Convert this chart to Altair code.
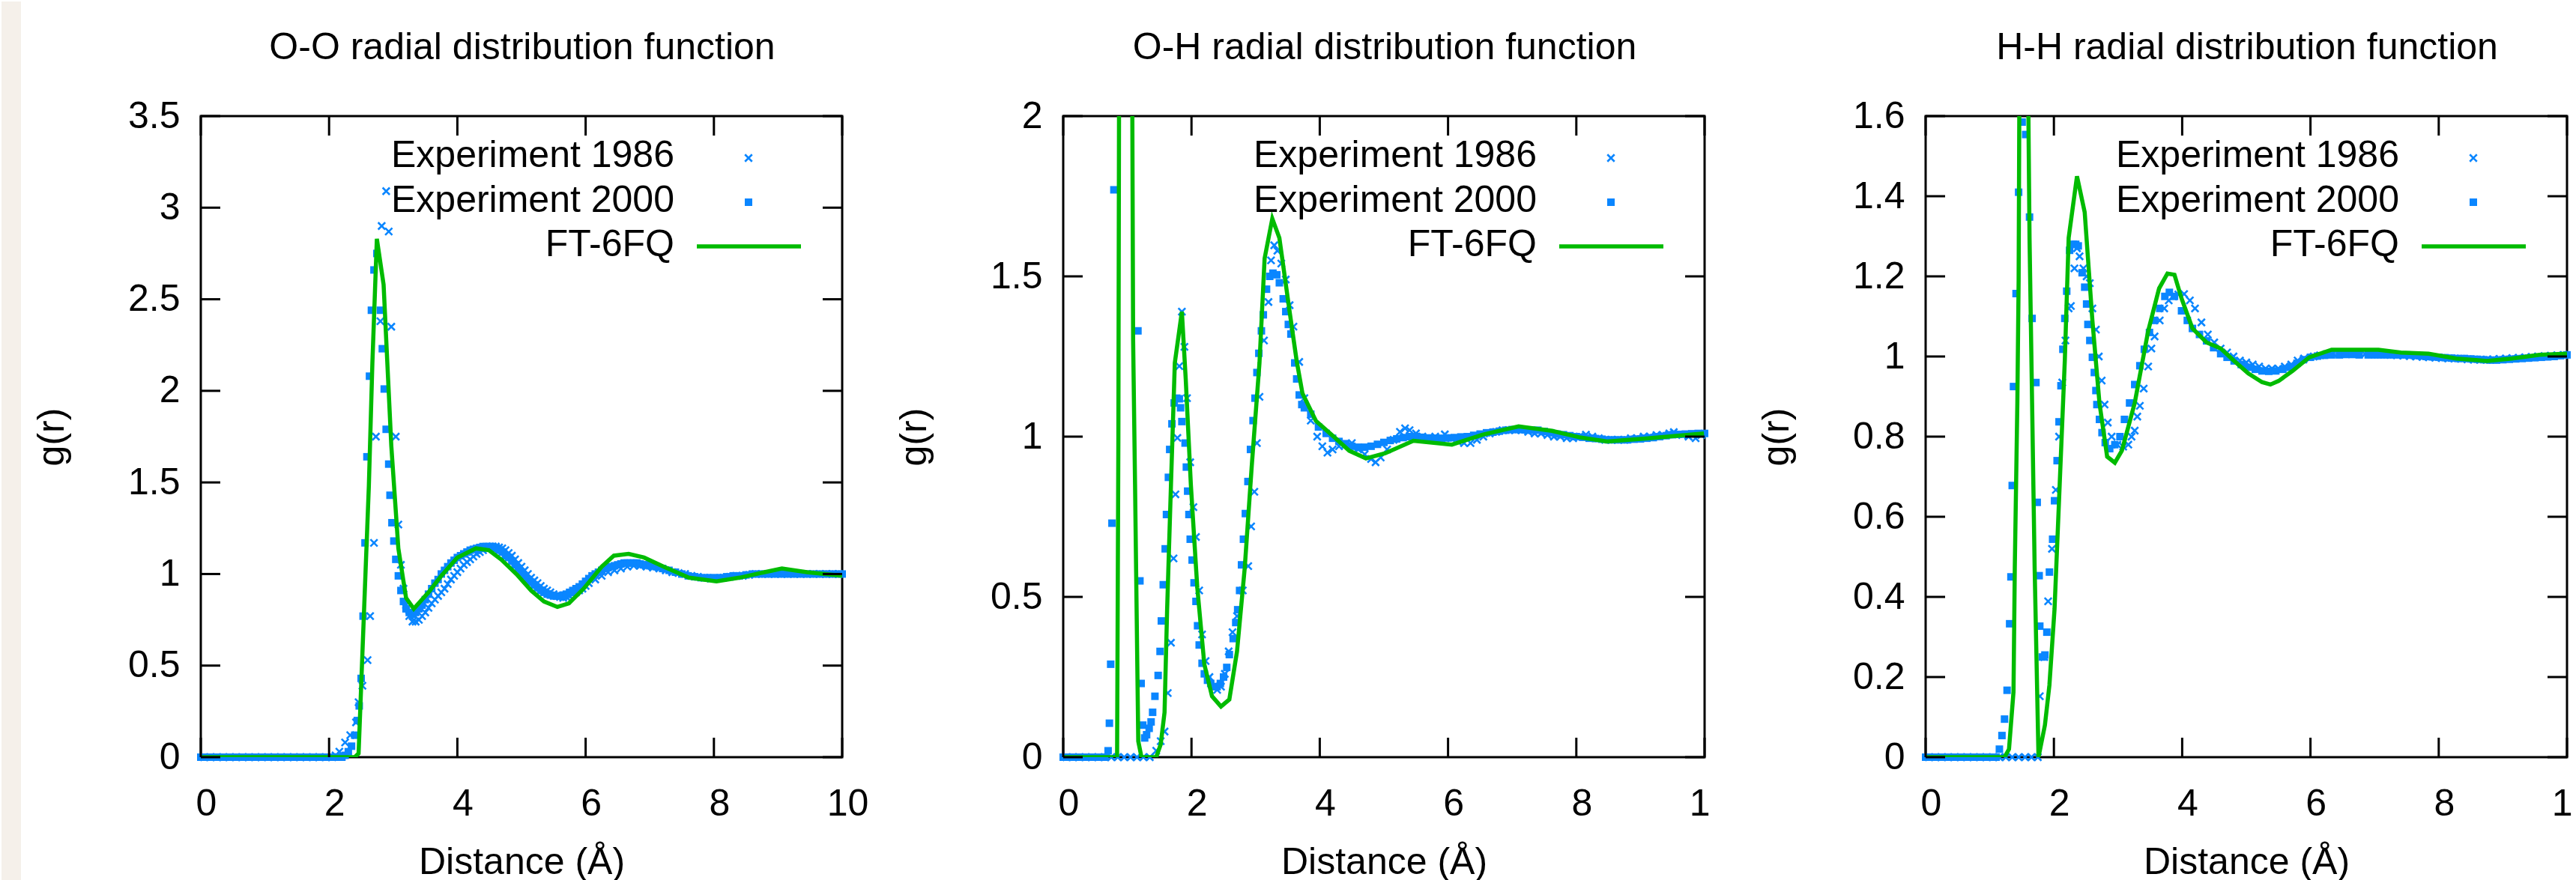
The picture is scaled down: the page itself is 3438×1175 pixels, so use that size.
import altair as alt
import pandas as pd

FONT = "Liberation Sans"
BLUE = "#0A86FF"
GREEN = "#00BB00"
STRIP = "#F5F0EA"

TITLES = ["O-O radial distribution function",
          "O-H radial distribution function",
          "H-H radial distribution function"]
LEGEND_LABELS = ["Experiment 1986", "Experiment 2000", "FT-6FQ"]
X_LABEL = "Distance (Å)"
Y_LABEL = "g(r)"
X_TICKS = [0, 2, 4, 6, 8, 10]
OO_Y_TICKS = [0, 0.5, 1, 1.5, 2, 2.5, 3, 3.5]
OH_Y_TICKS = [0, 0.5, 1, 1.5, 2]
HH_Y_TICKS = [0, 0.2, 0.4, 0.6, 0.8, 1, 1.2, 1.4, 1.6]

# ---------------- O-O ----------------
OO_EXP1986 = [
    (0.05, 0), (0.15, 0), (0.25, 0), (0.35, 0), (0.45, 0), (0.55, 0), (0.65, 0), (0.75, 0),
    (0.85, 0), (0.95, 0), (1.05, 0), (1.15, 0), (1.25, 0), (1.35, 0), (1.45, 0), (1.55, 0),
    (1.65, 0), (1.75, 0), (1.85, 0), (1.95, 0), (2.05, 0), (2.10, 0.01), (2.16, 0.03),
    (2.25, 0.08), (2.33, 0.12), (2.42, 0.19), (2.46, 0.30), (2.52, 0.39), (2.60, 0.53),
    (2.64, 0.77), (2.70, 1.17), (2.73, 1.75), (2.80, 2.38), (2.82, 2.90), (2.89, 3.09),
    (2.93, 2.87), (2.97, 2.35), (3.04, 1.75), (3.08, 1.27), (3.12, 1.05), (3.16, 0.92),
    (3.20, 0.83), (3.25, 0.77), (3.30, 0.74), (3.35, 0.74), (3.40, 0.75), (3.45, 0.77),
    (3.50, 0.79), (3.55, 0.815), (3.60, 0.84), (3.65, 0.86), (3.70, 0.88), (3.75, 0.90),
    (3.80, 0.92), (3.85, 0.945), (3.90, 0.97), (3.95, 0.99), (4.00, 1.01), (4.05, 1.03),
    (4.10, 1.05), (4.15, 1.065), (4.20, 1.08), (4.25, 1.095), (4.30, 1.11), (4.35, 1.12),
    (4.40, 1.13), (4.45, 1.14), (4.50, 1.145), (4.55, 1.15), (4.60, 1.15), (4.65, 1.145),
    (4.70, 1.14), (4.75, 1.13), (4.80, 1.115), (4.85, 1.10), (4.90, 1.08), (4.95, 1.06),
    (5.00, 1.04), (5.05, 1.02), (5.10, 1.00), (5.15, 0.98), (5.20, 0.965), (5.25, 0.95),
    (5.30, 0.935), (5.35, 0.92), (5.40, 0.91), (5.45, 0.90), (5.50, 0.89), (5.55, 0.88),
    (5.60, 0.875), (5.65, 0.87), (5.70, 0.875), (5.75, 0.88), (5.80, 0.89), (5.85, 0.90),
    (5.90, 0.91), (5.95, 0.92), (6.00, 0.935), (6.05, 0.95), (6.15, 0.97), (6.25, 0.99),
    (6.35, 1.01), (6.45, 1.02), (6.55, 1.03), (6.65, 1.04), (6.75, 1.045), (6.85, 1.045),
    (6.95, 1.04), (7.05, 1.035), (7.15, 1.03), (7.25, 1.02), (7.35, 1.01), (7.45, 1.005),
    (7.55, 1.0), (7.65, 0.99), (7.75, 0.985), (7.85, 0.98), (7.95, 0.975), (8.05, 0.975),
    (8.15, 0.98), (8.25, 0.985), (8.35, 0.99), (8.45, 0.99), (8.55, 0.995), (8.65, 1.0),
    (8.75, 1.0), (8.85, 1.0), (8.95, 1.0), (9.05, 1.0), (9.15, 1.0), (9.25, 1.0), (9.35, 1.0),
    (9.45, 1.0), (9.55, 1.0), (9.65, 1.0), (9.75, 1.0), (9.85, 1.0), (9.95, 1.0),
]
OO_EXP2000 = [
    (0.0, 0), (0.1, 0), (0.2, 0), (0.3, 0), (0.4, 0), (0.5, 0), (0.6, 0), (0.7, 0), (0.8, 0),
    (0.9, 0), (1.0, 0), (1.1, 0), (1.2, 0), (1.3, 0), (1.4, 0), (1.5, 0), (1.6, 0), (1.7, 0),
    (1.8, 0), (1.9, 0), (2.0, 0), (2.1, 0), (2.2, 0), (2.25, 0.01), (2.30, 0.03), (2.35, 0.06),
    (2.40, 0.12), (2.44, 0.20), (2.47, 0.28), (2.50, 0.43), (2.53, 0.77), (2.56, 1.17),
    (2.59, 1.64), (2.63, 2.08), (2.66, 2.44), (2.70, 2.66), (2.745, 2.75), (2.80, 2.44),
    (2.83, 2.23), (2.86, 2.01), (2.89, 1.79), (2.93, 1.60), (2.95, 1.43), (2.98, 1.28),
    (3.01, 1.18), (3.04, 1.08), (3.08, 0.99), (3.12, 0.91), (3.16, 0.85), (3.20, 0.81),
    (3.25, 0.79), (3.30, 0.78), (3.35, 0.79), (3.40, 0.81), (3.45, 0.83), (3.50, 0.86),
    (3.55, 0.89), (3.60, 0.92), (3.65, 0.95), (3.70, 0.97), (3.75, 1.00), (3.80, 1.02),
    (3.85, 1.04), (3.90, 1.06), (3.95, 1.075), (4.00, 1.09), (4.05, 1.10), (4.10, 1.11),
    (4.15, 1.12), (4.20, 1.13), (4.25, 1.135), (4.30, 1.14), (4.35, 1.145), (4.40, 1.15),
    (4.45, 1.15), (4.50, 1.15), (4.55, 1.15), (4.60, 1.14), (4.65, 1.13), (4.70, 1.12),
    (4.75, 1.10), (4.80, 1.09), (4.85, 1.07), (4.90, 1.05), (4.95, 1.03), (5.00, 1.01),
    (5.05, 0.99), (5.10, 0.97), (5.15, 0.955), (5.20, 0.94), (5.25, 0.925), (5.30, 0.91),
    (5.35, 0.90), (5.40, 0.89), (5.45, 0.885), (5.50, 0.88), (5.55, 0.88), (5.60, 0.88),
    (5.65, 0.885), (5.70, 0.89), (5.75, 0.90), (5.80, 0.91), (5.85, 0.92), (5.90, 0.93),
    (5.95, 0.945), (6.00, 0.96), (6.05, 0.975), (6.10, 0.99), (6.15, 1.00), (6.20, 1.01),
    (6.25, 1.02), (6.30, 1.03), (6.35, 1.035), (6.40, 1.04), (6.45, 1.045), (6.50, 1.05),
    (6.55, 1.055), (6.60, 1.06), (6.65, 1.06), (6.70, 1.06), (6.75, 1.06), (6.80, 1.06),
    (6.85, 1.055), (6.90, 1.05), (6.95, 1.05), (7.00, 1.045), (7.10, 1.04), (7.20, 1.03),
    (7.30, 1.02), (7.40, 1.01), (7.50, 1.00), (7.60, 0.99), (7.70, 0.985), (7.80, 0.98),
    (7.90, 0.98), (8.00, 0.98), (8.10, 0.98), (8.20, 0.985), (8.30, 0.99), (8.40, 0.99),
    (8.50, 0.995), (8.60, 1.0), (8.70, 1.0), (8.80, 1.0), (8.90, 1.0), (9.00, 1.0),
    (9.10, 1.0), (9.20, 1.0), (9.30, 1.0), (9.40, 1.0), (9.50, 1.0), (9.60, 1.0), (9.70, 1.0),
    (9.80, 1.0), (9.90, 1.0), (10.0, 1.0),
]
OO_FT6FQ = [
    (0.0, 0), (2.40, 0), (2.46, 0.02), (2.52, 0.57), (2.62, 1.48), (2.675, 2.15),
    (2.745, 2.83), (2.85, 2.58), (2.97, 1.70), (3.08, 1.14), (3.20, 0.87), (3.32, 0.81),
    (3.55, 0.90), (3.75, 0.99), (4.00, 1.09), (4.29, 1.14), (4.49, 1.13), (4.68, 1.08),
    (4.92, 1.00), (5.15, 0.91), (5.35, 0.85), (5.56, 0.82), (5.74, 0.84), (5.97, 0.92),
    (6.25, 1.04), (6.44, 1.10), (6.67, 1.11), (6.91, 1.09), (7.22, 1.04), (7.61, 0.98),
    (8.04, 0.96), (8.40, 0.98), (8.79, 1.01), (9.06, 1.03), (9.45, 1.01), (10.0, 0.99),
]

# ---------------- O-H ----------------
OH_EXP1986 = [
    (0.05, 0), (0.15, 0), (0.25, 0), (0.35, 0), (0.45, 0), (0.55, 0), (0.65, 0), (0.75, 0),
    (0.85, 0), (0.95, 0), (1.05, 0), (1.15, 0), (1.25, 0), (1.35, 0), (1.45, 0.02),
    (1.52, 0.05), (1.58, 0.08), (1.63, 0.20), (1.68, 0.357), (1.72, 0.62), (1.75, 0.82),
    (1.78, 0.996), (1.81, 1.22), (1.85, 1.39), (1.89, 1.28), (1.93, 1.12), (1.98, 0.92),
    (2.03, 0.78), (2.07, 0.687), (2.12, 0.52), (2.165, 0.383), (2.22, 0.30), (2.28, 0.25),
    (2.34, 0.22), (2.40, 0.21), (2.46, 0.22), (2.52, 0.26), (2.58, 0.33), (2.64, 0.39),
    (2.71, 0.44), (2.80, 0.52), (2.885, 0.596), (2.93, 0.72), (2.98, 0.828), (3.02, 0.98),
    (3.06, 1.124), (3.13, 1.30), (3.20, 1.42), (3.24, 1.55), (3.29, 1.597), (3.34, 1.58),
    (3.40, 1.54), (3.47, 1.49), (3.53, 1.41), (3.59, 1.343), (3.68, 1.233), (3.76, 1.12),
    (3.86, 1.05), (3.96, 1.00), (4.04, 0.97), (4.12, 0.95), (4.20, 0.96), (4.30, 0.97),
    (4.40, 0.975), (4.50, 0.98), (4.60, 0.96), (4.70, 0.945), (4.80, 0.93), (4.87, 0.92),
    (4.95, 0.935), (5.05, 0.96), (5.15, 0.99), (5.25, 1.015), (5.33, 1.026), (5.40, 1.02),
    (5.50, 1.01), (5.60, 1.00), (5.70, 0.995), (5.80, 1.0), (5.95, 1.007), (6.05, 0.995),
    (6.15, 0.985), (6.25, 0.98), (6.35, 0.98), (6.45, 0.99), (6.55, 1.0), (6.65, 1.01),
    (6.75, 1.015), (6.85, 1.02), (6.95, 1.02), (7.05, 1.02), (7.15, 1.02), (7.25, 1.015),
    (7.35, 1.01), (7.45, 1.01), (7.55, 1.005), (7.65, 1.0), (7.75, 1.0), (7.85, 0.995),
    (7.95, 0.995), (8.05, 1.0), (8.15, 1.006), (8.25, 1.0), (8.35, 0.995), (8.45, 0.99),
    (8.55, 0.99), (8.65, 0.99), (8.75, 0.99), (8.85, 0.995), (8.95, 0.995), (9.05, 1.0),
    (9.15, 1.0), (9.25, 1.005), (9.35, 1.005), (9.45, 1.01), (9.52, 1.014), (9.65, 1.005),
    (9.75, 1.0), (9.86, 0.995), (9.95, 1.005),
]
OH_EXP2000 = [
    (0.0, 0), (0.1, 0), (0.2, 0), (0.3, 0), (0.4, 0), (0.5, 0), (0.6, 0), (0.65, 0.0),
    (0.70, 0.02), (0.72, 0.106), (0.74, 0.29), (0.76, 0.73), (0.79, 1.77), (1.165, 1.33),
    (1.196, 0.55), (1.215, 0.23), (1.24, 0.10), (1.27, 0.06), (1.30, 0.07), (1.34, 0.09),
    (1.37, 0.11), (1.394, 0.14), (1.43, 0.19), (1.48, 0.255), (1.51, 0.33), (1.53, 0.425),
    (1.56, 0.538), (1.59, 0.65), (1.61, 0.757), (1.64, 0.873), (1.66, 0.96), (1.695, 1.04),
    (1.73, 1.105), (1.77, 1.12), (1.81, 1.118), (1.83, 1.09), (1.85, 1.047), (1.90, 0.98),
    (1.92, 0.905), (1.94, 0.83), (1.96, 0.757), (1.98, 0.68), (2.01, 0.615), (2.04, 0.544),
    (2.07, 0.486), (2.095, 0.41), (2.12, 0.35), (2.165, 0.293), (2.20, 0.26), (2.25, 0.24),
    (2.30, 0.23), (2.35, 0.22), (2.40, 0.22), (2.45, 0.23), (2.50, 0.25), (2.55, 0.28),
    (2.59, 0.32), (2.65, 0.37), (2.69, 0.42), (2.72, 0.46), (2.75, 0.52), (2.78, 0.60),
    (2.81, 0.68), (2.84, 0.76), (2.88, 0.86), (2.92, 0.96), (2.96, 1.05), (2.99, 1.12),
    (3.02, 1.20), (3.05, 1.26), (3.09, 1.33), (3.12, 1.38), (3.17, 1.46), (3.22, 1.50),
    (3.27, 1.51), (3.33, 1.505), (3.37, 1.48), (3.43, 1.43), (3.47, 1.39), (3.51, 1.35),
    (3.55, 1.32), (3.61, 1.23), (3.64, 1.18), (3.68, 1.13), (3.72, 1.10), (3.76, 1.09),
    (3.86, 1.07), (3.98, 1.03), (4.1, 1.01), (4.2, 0.995), (4.3, 0.985), (4.4, 0.978),
    (4.5, 0.97), (4.6, 0.967), (4.7, 0.967), (4.8, 0.97), (4.9, 0.976), (5.0, 0.982),
    (5.1, 0.988), (5.2, 0.993), (5.3, 0.997), (5.4, 1.0), (5.5, 1.0), (5.6, 0.998),
    (5.7, 0.996), (5.8, 0.995), (5.9, 0.995), (6.0, 0.996), (6.1, 0.997), (6.2, 0.999),
    (6.3, 1.0), (6.4, 1.004), (6.5, 1.008), (6.6, 1.012), (6.7, 1.014), (6.8, 1.017),
    (6.9, 1.02), (7.0, 1.022), (7.1, 1.022), (7.2, 1.021), (7.3, 1.02), (7.4, 1.02),
    (7.5, 1.016), (7.6, 1.012), (7.7, 1.008), (7.8, 1.006), (7.9, 1.003), (8.0, 1.0),
    (8.1, 0.998), (8.2, 0.995), (8.3, 0.994), (8.4, 0.992), (8.5, 0.99), (8.6, 0.99),
    (8.7, 0.99), (8.8, 0.99), (8.9, 0.992), (9.0, 0.993), (9.1, 0.995), (9.2, 0.997),
    (9.3, 1.0), (9.4, 1.003), (9.5, 1.006), (9.6, 1.007), (9.7, 1.008), (9.8, 1.009),
    (9.9, 1.01), (10.0, 1.01),
]
OH_FT6FQ = [
    (0.0, 0), (0.82, 0), (0.84, 0.0), (0.86, 1.0), (0.88, 3.0), (0.96, 6.0), (1.06, 3.0),
    (1.09, 1.30), (1.12, 0.85), (1.17, 0.05), (1.22, 0.0), (1.45, 0.0), (1.52, 0.04),
    (1.58, 0.14), (1.62, 0.46), (1.68, 0.85), (1.74, 1.23), (1.85, 1.39), (1.91, 1.18),
    (1.99, 0.85), (2.09, 0.53), (2.20, 0.29), (2.32, 0.19), (2.46, 0.158), (2.59, 0.18),
    (2.71, 0.33), (2.83, 0.59), (2.94, 0.91), (3.06, 1.23), (3.14, 1.556), (3.26, 1.68),
    (3.37, 1.62), (3.53, 1.39), (3.64, 1.236), (3.73, 1.135), (3.94, 1.049), (4.245, 0.995),
    (4.46, 0.956), (4.72, 0.932), (5.02, 0.948), (5.46, 0.987), (6.06, 0.975), (6.54, 1.006),
    (7.10, 1.032), (7.62, 1.018), (8.05, 0.998), (8.48, 0.985), (9.12, 0.995), (9.99, 1.01),
]

# ---------------- H-H ----------------
HH_EXP1986 = [
    (0.05, 0), (0.15, 0), (0.25, 0), (0.35, 0), (0.45, 0), (0.55, 0), (0.65, 0), (0.75, 0),
    (0.85, 0), (0.95, 0), (1.05, 0), (1.15, 0), (1.25, 0), (1.35, 0), (1.45, 0), (1.55, 0),
    (1.65, 0), (1.75, 0), (1.78, 0.152), (1.85, 0.25), (1.91, 0.389), (1.97, 0.52),
    (2.03, 0.667), (2.08, 0.80), (2.13, 0.935), (2.18, 1.04), (2.23, 1.12), (2.265, 1.126),
    (2.32, 1.22), (2.36, 1.27), (2.40, 1.25), (2.46, 1.22), (2.51, 1.20), (2.56, 1.183),
    (2.60, 1.12), (2.655, 1.067), (2.70, 1.00), (2.745, 0.94), (2.79, 0.88), (2.84, 0.835),
    (2.90, 0.80), (2.99, 0.78), (3.08, 0.775), (3.16, 0.78), (3.21, 0.80), (3.26, 0.815),
    (3.30, 0.85), (3.34, 0.877), (3.40, 0.92), (3.47, 0.975), (3.52, 1.02), (3.57, 1.05),
    (3.65, 1.09), (3.72, 1.12), (3.79, 1.14), (3.86, 1.15), (3.94, 1.155), (4.03, 1.156),
    (4.12, 1.14), (4.20, 1.12), (4.30, 1.085), (4.40, 1.055), (4.50, 1.035), (4.60, 1.02),
    (4.70, 1.01), (4.80, 1.0), (4.90, 0.99), (5.00, 0.985), (5.10, 0.98), (5.20, 0.975),
    (5.30, 0.97), (5.40, 0.97), (5.50, 0.97), (5.60, 0.975), (5.70, 0.98), (5.80, 0.99),
    (5.90, 0.995), (6.05, 1.0), (6.15, 1.003), (6.25, 1.006), (6.35, 1.008), (6.45, 1.008),
    (6.55, 1.008), (6.65, 1.008), (6.75, 1.007), (6.85, 1.006), (6.95, 1.006), (7.05, 1.005),
    (7.15, 1.005), (7.25, 1.004), (7.35, 1.003), (7.45, 1.002), (7.55, 1.001), (7.65, 1.0),
    (7.75, 0.999), (7.85, 0.998), (7.95, 0.997), (8.05, 0.996), (8.15, 0.995), (8.25, 0.995),
    (8.35, 0.994), (8.45, 0.993), (8.55, 0.992), (8.65, 0.992), (8.75, 0.992), (8.85, 0.993),
    (8.95, 0.994), (9.05, 0.995), (9.15, 0.996), (9.25, 0.997), (9.35, 0.998), (9.45, 0.999),
    (9.55, 1.0), (9.65, 1.001), (9.75, 1.002), (9.85, 1.003), (9.95, 1.004),
]
HH_EXP2000 = [
    (0.0, 0), (0.1, 0), (0.2, 0), (0.3, 0), (0.4, 0), (0.5, 0), (0.6, 0), (0.7, 0), (0.8, 0),
    (0.9, 0), (1.0, 0), (1.1, 0.0), (1.15, 0.02), (1.19, 0.054), (1.23, 0.095), (1.27, 0.167),
    (1.31, 0.333), (1.33, 0.45), (1.35, 0.678), (1.37, 0.925), (1.41, 1.157), (1.45, 1.41),
    (1.505, 1.585), (1.56, 1.554), (1.62, 1.348), (1.66, 1.095), (1.72, 0.935), (1.74, 0.636),
    (1.77, 0.453), (1.78, 0.327), (1.82, 0.25), (1.86, 0.255), (1.89, 0.312), (1.93, 0.462),
    (1.98, 0.544), (2.01, 0.64), (2.05, 0.74), (2.08, 0.837), (2.11, 0.927), (2.14, 1.018),
    (2.17, 1.095), (2.20, 1.163), (2.245, 1.265), (2.30, 1.28), (2.34, 1.28), (2.38, 1.276),
    (2.44, 1.209), (2.48, 1.173), (2.51, 1.131), (2.53, 1.08), (2.56, 1.04), (2.60, 0.998),
    (2.63, 0.96), (2.655, 0.915), (2.67, 0.88), (2.71, 0.843), (2.75, 0.81), (2.80, 0.785),
    (2.87, 0.77), (2.95, 0.78), (3.03, 0.80), (3.10, 0.843), (3.18, 0.884), (3.26, 0.93),
    (3.34, 0.977), (3.41, 1.018), (3.49, 1.06), (3.57, 1.09), (3.65, 1.12), (3.73, 1.15),
    (3.80, 1.16), (3.88, 1.15), (3.99, 1.114), (4.08, 1.09), (4.16, 1.07), (4.27, 1.055),
    (4.38, 1.039), (4.49, 1.022), (4.60, 1.007), (4.70, 0.998), (4.81, 0.989), (4.92, 0.98),
    (5.03, 0.973), (5.14, 0.968), (5.245, 0.964), (5.35, 0.963), (5.46, 0.964), (5.57, 0.968),
    (5.68, 0.973), (5.79, 0.983), (5.89, 0.992), (6.0, 0.998), (6.11, 1.001), (6.22, 1.003),
    (6.33, 1.004), (6.45, 1.004), (6.55, 1.005), (6.65, 1.005), (6.76, 1.004), (6.9, 1.004),
    (7.0, 1.004), (7.1, 1.004), (7.2, 1.004), (7.3, 1.004), (7.4, 1.004), (7.5, 1.004),
    (7.6, 1.003), (7.7, 1.002), (7.8, 1.0), (7.9, 0.999), (8.0, 0.998), (8.1, 0.997),
    (8.2, 0.996), (8.3, 0.995), (8.4, 0.995), (8.5, 0.994), (8.6, 0.993), (8.7, 0.992),
    (8.8, 0.991), (8.9, 0.991), (9.0, 0.992), (9.1, 0.993), (9.2, 0.994), (9.3, 0.995),
    (9.4, 0.996), (9.5, 0.997), (9.6, 0.998), (9.7, 0.999), (9.8, 1.0), (9.9, 1.002),
    (10.0, 1.004),
]
HH_FT6FQ = [
    (0.0, 0), (1.23, 0), (1.30, 0.02), (1.37, 0.163), (1.39, 0.47), (1.43, 0.884),
    (1.45, 1.19), (1.47, 2.0), (1.53, 3.0), (1.58, 2.0), (1.62, 1.296), (1.66, 0.884),
    (1.70, 0.47), (1.76, 0.0), (1.86, 0.08), (1.93, 0.18), (2.01, 0.37), (2.09, 0.68),
    (2.17, 0.99), (2.23, 1.296), (2.36, 1.45), (2.48, 1.36), (2.60, 1.09), (2.71, 0.884),
    (2.83, 0.75), (2.95, 0.735), (3.06, 0.765), (3.26, 0.884), (3.47, 1.064), (3.64, 1.17),
    (3.77, 1.207), (3.88, 1.204), (3.99, 1.145), (4.16, 1.07), (4.38, 1.035), (4.60, 1.02),
    (4.81, 0.989), (5.03, 0.958), (5.245, 0.936), (5.375, 0.93), (5.505, 0.939), (5.72, 0.964),
    (5.98, 0.998), (6.33, 1.017), (6.76, 1.017), (7.06, 1.017), (7.41, 1.01), (7.84, 1.007),
    (8.275, 0.995), (8.75, 0.989), (9.14, 0.995), (9.57, 1.004), (10.0, 1.007),
]

# ---------------- layout / style ----------------
W = 856
H = 856
TICK_LEN = 26
XPATH = "M-1,-1L1,1M-1,1L1,-1"
X_SIZE = 90
SQ_SIZE = 100


def df(pairs):
    return pd.DataFrame(pairs, columns=["r", "g"])


def build_panel(title, exp86, exp00, ft, y_ticks, short_last=False, strip=False):
    xs = alt.Scale(domain=[0, 10], nice=False, zero=False)
    ys = alt.Scale(domain=[0, y_ticks[-1]], nice=False, zero=False)
    xaxis_kw = dict(
        values=X_TICKS, title=X_LABEL, grid=False, ticks=False, tickSize=0, domain=False,
        labelFont=FONT, labelFontSize=50, labelColor="black", labelPadding=37,
        labelOffset=7, labelFlush=False, labelOverlap=False,
        titleFont=FONT, titleFontSize=50, titleFontWeight="normal", titleColor="black",
        titlePadding=28,
    )
    if short_last:
        xaxis_kw["labelExpr"] = "datum.value == 10 ? '1' : datum.label"
        xaxis_kw["labelAlign"] = {"condition": {"test": "datum.value == 10", "value": "right"},
                                  "value": "center"}
    xaxis = alt.Axis(**xaxis_kw)
    yaxis = alt.Axis(
        values=y_ticks, format="~g", title=Y_LABEL, grid=False, ticks=False, tickSize=0,
        domain=False, labelFont=FONT, labelFontSize=50, labelColor="black", labelPadding=28,
        labelOverlap=False, labelFlush=False,
        titleFont=FONT, titleFontSize=50, titleFontWeight="normal", titleColor="black",
        titlePadding=76,
    )
    X = alt.X("r:Q", scale=xs, axis=xaxis)
    Y = alt.Y("g:Q", scale=ys, axis=yaxis)

    layers = []
    one = pd.DataFrame({"t": [0]})
    if strip:
        layers.append(alt.Chart(one).mark_rect(color=STRIP).encode(
            x=alt.value(-266), x2=alt.value(-240), y=alt.value(-153), y2=alt.value(1022)))

    layers.append(alt.Chart(df(exp86)).mark_point(
        shape=XPATH, filled=False, color=BLUE, strokeWidth=2.6, size=X_SIZE, opacity=1
    ).encode(x=X, y=Y))
    layers.append(alt.Chart(df(exp00)).mark_point(
        shape="square", filled=True, color=BLUE, size=SQ_SIZE, opacity=1, strokeWidth=0
    ).encode(x=X, y=Y))
    layers.append(alt.Chart(df(ft)).mark_line(
        color=GREEN, strokeWidth=5.5, clip=True
    ).encode(x=X, y=Y))

    xt = pd.DataFrame({"r": X_TICKS})
    yt = pd.DataFrame({"g": y_ticks})
    tick = dict(color="black", strokeWidth=3)
    layers.append(alt.Chart(xt).mark_rule(**tick).encode(
        x=X, y=alt.value(0), y2=alt.value(TICK_LEN)))
    layers.append(alt.Chart(xt).mark_rule(**tick).encode(
        x=X, y=alt.value(H - TICK_LEN), y2=alt.value(H)))
    layers.append(alt.Chart(yt).mark_rule(**tick).encode(
        y=Y, x=alt.value(0), x2=alt.value(TICK_LEN)))
    layers.append(alt.Chart(yt).mark_rule(**tick).encode(
        y=Y, x=alt.value(W - TICK_LEN), x2=alt.value(W)))

    # panel title (as a text mark so it sits at a fixed distance above the frame)
    layers.append(alt.Chart(pd.DataFrame({"t": [title]})).mark_text(
        align="center", baseline="alphabetic", font=FONT, fontSize=50, color="black"
    ).encode(x=alt.value(W / 2 + 1), y=alt.value(-76), text="t:N"))

    # key (gnuplot style: label on the left, sample on the right)
    for i, lab in enumerate(LEGEND_LABELS):
        layers.append(alt.Chart(pd.DataFrame({"t": [lab]})).mark_text(
            align="right", baseline="alphabetic", font=FONT, fontSize=50, color="black"
        ).encode(x=alt.value(632), y=alt.value(68 + 59.7 * i), text="t:N"))
    layers.append(alt.Chart(one).mark_point(
        shape=XPATH, filled=False, color=BLUE, strokeWidth=2.6, size=X_SIZE, opacity=1
    ).encode(x=alt.value(731), y=alt.value(56)))
    layers.append(alt.Chart(one).mark_point(
        shape="square", filled=True, color=BLUE, size=SQ_SIZE, opacity=1, strokeWidth=0
    ).encode(x=alt.value(731), y=alt.value(115)))
    layers.append(alt.Chart(one).mark_rule(color=GREEN, strokeWidth=5.5).encode(
        x=alt.value(662), x2=alt.value(801), y=alt.value(174)))

    return alt.layer(*layers).properties(width=W, height=H)


p1 = build_panel(TITLES[0], OO_EXP1986, OO_EXP2000, OO_FT6FQ, OO_Y_TICKS, strip=True)
p2 = build_panel(TITLES[1], OH_EXP1986, OH_EXP2000, OH_FT6FQ, OH_Y_TICKS, short_last=True)
p3 = build_panel(TITLES[2], HH_EXP1986, HH_EXP2000, HH_FT6FQ, HH_Y_TICKS, short_last=True)

chart = alt.hconcat(p1, p2, p3, spacing=295, bounds="flush").properties(
    padding=0, background="white"
).configure_view(stroke="black", strokeWidth=3)

chart.save("out.html", embed_options={"renderer": "svg", "actions": False})
